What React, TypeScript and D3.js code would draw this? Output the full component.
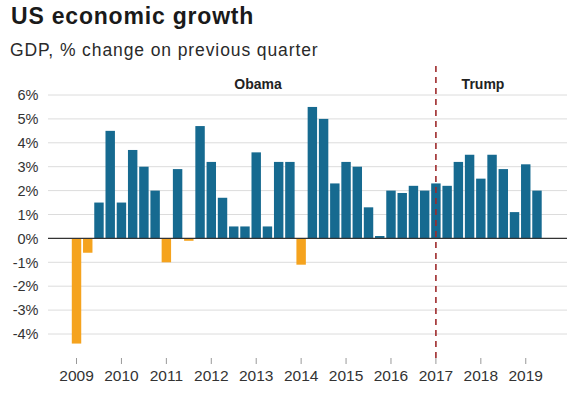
import * as d3 from 'd3';

const years = ['2009', '2010', '2011', '2012', '2013', '2014', '2015', '2016', '2017', '2018', '2019'];
const quarters = ['Q1', 'Q2', 'Q3', 'Q4'];

// GDP growth, % change on previous quarter (annualised), 2009 Q1 - 2019 Q2
const growth = [
  -4.4, -0.6, 1.5, 4.5,
  1.5, 3.7, 3.0, 2.0,
  -1.0, 2.9, -0.1, 4.7,
  3.2, 1.7, 0.5, 0.5,
  3.6, 0.5, 3.2, 3.2,
  -1.1, 5.5, 5.0, 2.3,
  3.2, 3.0, 1.3, 0.1,
  2.0, 1.9, 2.2, 2.0,
  2.3, 2.2, 3.2, 3.5,
  2.5, 3.5, 2.9, 1.1,
  3.1, 2.0,
];

const yTicks = [6, 5, 4, 3, 2, 1, 0, -1, -2, -3, -4];
const presidents = [
  { name: 'Obama', from: '2009-Q1' },
  { name: 'Trump', from: '2017-Q1' },
];

const W = 577;
const H = 398;
const FONT = '"Liberation Sans", Arial, Helvetica, sans-serif';
const BLUE = '#166a90';
const ORANGE = '#f5a31e';

export default function App() {
  const labels = years.flatMap((y) => quarters.map((q) => `${y}-${q}`)).slice(0, growth.length);
  const data = labels.map((k, i) => ({ key: k, value: growth[i] }));

  const x = d3
    .scaleBand<string>()
    .domain(labels)
    .range([70.9, 542.6])
    .paddingInner(0.16)
    .paddingOuter(0.08);

  const y = d3.scaleLinear().domain([-4, 6]).range([334, 95]);

  const center = (k: string) => (x(k) ?? 0) + x.bandwidth() / 2;
  const trumpX = center(presidents[1].from);

  return (
    <svg width={W} height={H} style={{ position: 'absolute', left: 0, top: 0, background: '#fff' }} fontFamily={FONT}>
      <text x={11} y={23.5} fontSize={23} fontWeight="bold" letterSpacing={0.8} fill="#1a1a1a">
        US economic growth
      </text>
      <text x={10} y={56} fontSize={17.5} letterSpacing={0.9} fill="#2a2a2a">
        GDP, % change on previous quarter
      </text>

      {/* gridlines + y labels */}
      {yTicks.map((t) => (
        <g key={t}>
          {t !== 0 && <line x1={48} x2={567} y1={y(t)} y2={y(t)} stroke="#dcdcdc" strokeWidth={1} />}
          <text x={38.5} y={y(t)} dy="0.36em" textAnchor="end" fontSize={14.5} fill="#333">
            {`${t}%`}
          </text>
        </g>
      ))}

      {/* bars */}
      {data.map((d) => (
        <rect
          key={d.key}
          x={x(d.key)}
          width={x.bandwidth()}
          y={y(Math.max(0, d.value))}
          height={Math.max(Math.abs(y(d.value) - y(0)), 0.8)}
          fill={d.value < 0 ? ORANGE : BLUE}
        />
      ))}

      <line x1={48} x2={567} y1={y(0)} y2={y(0)} stroke="#333" strokeWidth={1.3} />

      {/* year ticks */}
      {years.map((yr) => {
        const cx = center(`${yr}-Q1`);
        return (
          <g key={yr}>
            <line x1={cx} x2={cx} y1={358} y2={364} stroke="#999" strokeWidth={1} />
            <text x={cx} y={381} textAnchor="middle" fontSize={15.5} fill="#333">
              {yr}
            </text>
          </g>
        );
      })}

      {/* presidency divider */}
      <line
        x1={trumpX}
        x2={trumpX}
        y1={66}
        y2={358}
        stroke="#9e2a2b"
        strokeWidth={1.6}
        strokeDasharray="6,5"
      />
      <text x={258} y={88.5} textAnchor="middle" fontSize={14} fontWeight="bold" fill="#222">
        {presidents[0].name}
      </text>
      <text x={483} y={88.5} textAnchor="middle" fontSize={14} fontWeight="bold" fill="#222">
        {presidents[1].name}
      </text>
    </svg>
  );
}
